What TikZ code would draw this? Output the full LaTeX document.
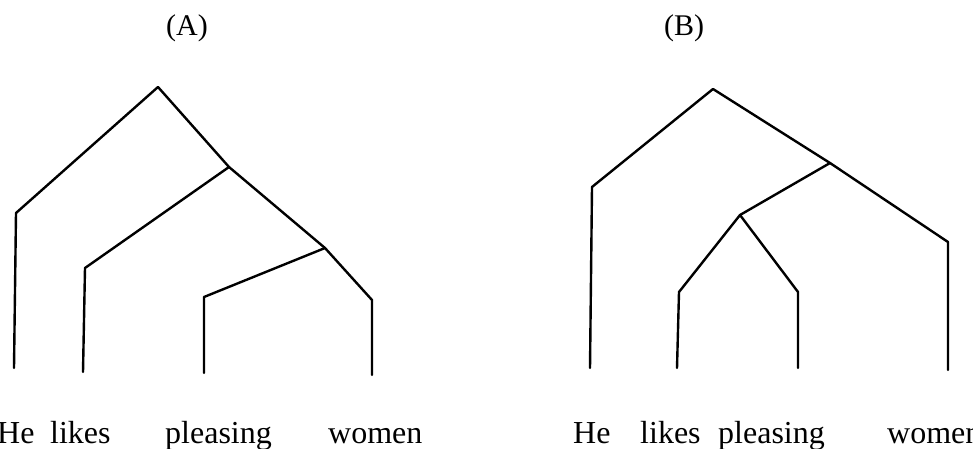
\documentclass[tikz,border=0pt]{standalone}
\usepackage{fontspec}
\setmainfont{Liberation Serif}
\tikzset{
  branch/.style={line width=2.4pt, line join=round, line cap=round, black},
  word/.style={anchor=base west, inner sep=0pt, font=\fontsize{32}{34}\selectfont},
  tag/.style={anchor=base, inner sep=0pt, font=\fontsize{30}{32}\selectfont}
}
\begin{document}
\begin{tikzpicture}[x=1pt,y=-1pt]
\useasboundingbox (0,0) rectangle (973,448);
% labels
\node[tag] (labA) at (187,35) {(A)};
\node[tag] (labB) at (684,35) {(B)};
% tree A coordinates
\coordinate (rootA) at (158,87);
\coordinate (sA1) at (16,213);
\coordinate (bA1) at (14,368);
\coordinate (jA2) at (229,167);
\coordinate (sA2) at (85,268);
\coordinate (bA2) at (83,372);
\coordinate (jA3) at (325,248);
\coordinate (sA3) at (204,297);
\coordinate (bA3) at (204,373);
\coordinate (sA4) at (372,300);
\coordinate (bA4) at (372,375);
\draw[branch] (bA1) -- (sA1) -- (rootA) -- (jA2) -- (jA3) -- (sA4) -- (bA4);
\draw[branch] (jA2) -- (sA2) -- (bA2);
\draw[branch] (jA3) -- (sA3) -- (bA3);
% tree B coordinates
\coordinate (rootB) at (713,89);
\coordinate (sB1) at (592,187);
\coordinate (bB1) at (590,368);
\coordinate (jB2) at (830,163);
\coordinate (sB4) at (948,242);
\coordinate (bB4) at (948,370);
\coordinate (jB3) at (740,215);
\coordinate (sB2) at (679,292);
\coordinate (bB2) at (677,368);
\coordinate (sB3) at (798,292);
\coordinate (bB3) at (798,368);
\draw[branch] (bB1) -- (sB1) -- (rootB) -- (jB2) -- (sB4) -- (bB4);
\draw[branch] (jB2) -- (jB3);
\draw[branch] (jB3) -- (sB2) -- (bB2);
\draw[branch] (jB3) -- (sB3) -- (bB3);
% words A
\node[word] (heA) at (-3,443) {He};
\node[word] (likesA) at (50,443) {likes};
\node[word] (pleasingA) at (165,443) {pleasing};
\node[word] (womenA) at (328,443) {women};
% words B
\node[word] (heB) at (573,443) {He};
\node[word] (likesB) at (640,443) {likes};
\node[word] (pleasingB) at (718,443) {pleasing};
\node[word] (womenB) at (887,443) {women};
\end{tikzpicture}
\end{document}
